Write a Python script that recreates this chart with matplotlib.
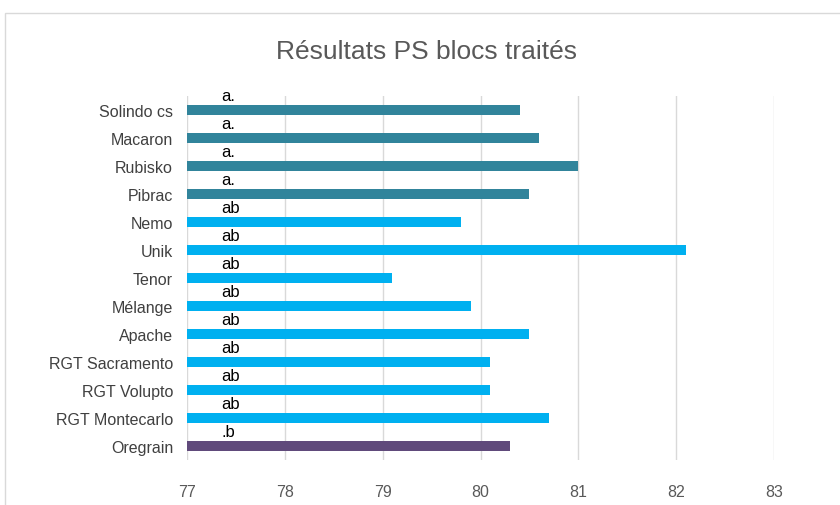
import matplotlib.pyplot as plt
from matplotlib.patches import Rectangle

plt.rcParams['font.family'] = ['Liberation Sans', 'DejaVu Sans']

varieties = ['Solindo cs', 'Macaron', 'Rubisko', 'Pibrac', 'Nemo', 'Unik', 'Tenor',
             'Mélange', 'Apache', 'RGT Sacramento', 'RGT Volupto', 'RGT Montecarlo', 'Oregrain']
ps_values = [80.4, 80.6, 81.0, 80.5, 79.8, 82.1, 79.1, 79.9, 80.5, 80.1, 80.1, 80.7, 80.3]
groups = ['a.', 'a.', 'a.', 'a.', 'ab', 'ab', 'ab', 'ab', 'ab', 'ab', 'ab', 'ab', '.b']
colors = ['#31849B'] * 4 + ['#00B0F0'] * 8 + ['#604A7B']

xmin, xmax = 77, 83

fig = plt.figure(figsize=(8.4, 5.06), dpi=100)
fig.patches.append(Rectangle((5 / 840, -0.01), 1.0, 1 - 14 / 506 + 0.01, transform=fig.transFigure,
                             facecolor='none', edgecolor='#D9D9D9', linewidth=1.0))
ax = fig.add_axes([187 / 840, 1 - 461 / 506, (774 - 187) / 840, (461 - 97) / 506])

ypos = list(range(len(varieties)))
widths = [v - xmin for v in ps_values]
ax.barh(ypos, widths, left=xmin, height=0.36, color=colors, zorder=3)

for y, g in zip(ypos, groups):
    ax.text(77.35, y - 0.52, g, ha='left', va='center', fontsize=12, color='black', zorder=4)

ax.set_xlim(xmin, xmax)
ax.set_ylim(len(varieties) - 0.5, -0.5)
ax.set_yticks(ypos)
ax.set_yticklabels(varieties, fontsize=11.5, color='#404040')
ax.set_xticks(range(xmin, xmax + 1))
ax.tick_params(axis='x', labelsize=11.5, labelcolor='#595959', length=0, pad=17)
ax.tick_params(axis='y', length=0, pad=10)
ax.grid(axis='x', color='#D9D9D9', linewidth=1.0, zorder=0)
for s in ax.spines.values():
    s.set_visible(False)

fig.text(427 / 840, 1 - 52 / 506, 'Résultats PS blocs traités', ha='center', va='center',
         fontsize=19, color='#595959')

fig.savefig('out.png', dpi=100)
